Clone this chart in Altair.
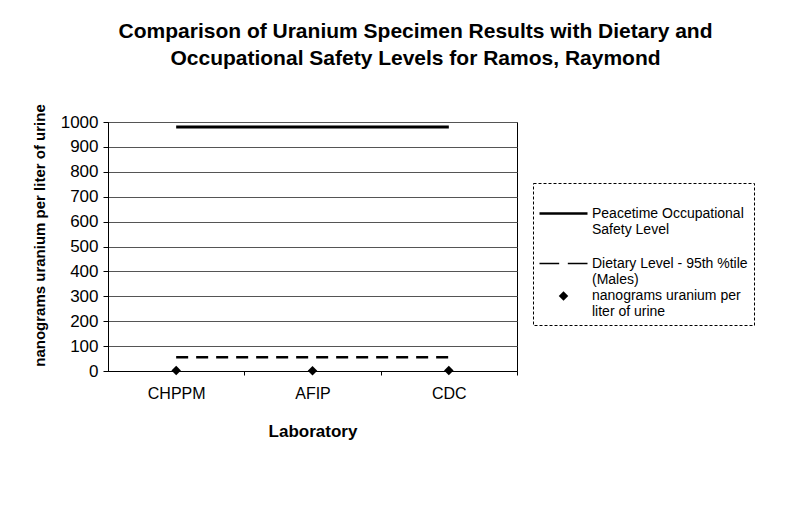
import altair as alt
import pandas as pd

labs = ["CHPPM", "AFIP", "CDC"]
peacetime = [980, 980, 980]
dietary = [55, 55, 55]
specimen = [2, 1, 2]

S1 = "Peacetime Occupational|Safety Level"
S2 = "Dietary Level - 95th %tile|(Males)"
S3 = "nanograms uranium per|liter of urine"
series = [S1, S2, S3]

lines_df = pd.DataFrame({
    "lab": labs * 2,
    "value": peacetime + dietary,
    "series": [S1] * 3 + [S2] * 3,
})
pts_df = pd.DataFrame({"lab": labs, "value": specimen, "series": [S3] * 3})

FONT = "Liberation Sans"

x = alt.X("lab:N", sort=labs,
          scale=alt.Scale(type="point", domain=labs, padding=0.5),
          axis=alt.Axis(title="Laboratory", labelAngle=0, labelFontSize=16,
                        labelColor="black", tickOffset=68, labelOffset=-68,
                        tickSize=4, labelPadding=10, titleFontSize=17,
                        titleFontWeight="bold", titlePadding=22, grid=False,
                        domainColor="black", tickColor="black"))
y = alt.Y("value:Q",
          scale=alt.Scale(domain=[0, 1000], nice=False),
          axis=alt.Axis(title="nanograms uranium per liter of urine",
                        values=list(range(0, 1001, 100)), format="d",
                        labelFontSize=17, labelColor="black", tickSize=5,
                        labelPadding=5, titleFontSize=15, titleFontWeight="bold",
                        titlePadding=13, titleY=113,
                        grid=True, gridColor="#555", gridWidth=1,
                        domainColor="black", tickColor="black"))

leg = alt.Legend(title=None, labelExpr="split(datum.label, '|')",
                 symbolStrokeColor="black", symbolFillColor="black",
                 symbolOpacity=1, symbolStrokeWidth=0.5)

SOLID_PATH = "M-1,-0.052H1V0.052H-1Z"
DASH_PATH = "M-1,-0.03H-0.18V0.03H-1Z M0.18,-0.03H1V0.03H0.18Z"

lines = alt.Chart(lines_df).mark_line(color="black").encode(
    x=x, y=y,
    strokeDash=alt.StrokeDash("series:N", legend=None,
                              scale=alt.Scale(domain=series, range=[[1, 0], [12, 8], [1, 0]])),
    strokeWidth=alt.StrokeWidth("series:N", legend=None,
                                scale=alt.Scale(type="ordinal", domain=series, range=[3, 2.5, 1])),
    detail="series:N",
)

points = alt.Chart(pts_df).mark_point(filled=True, color="black",
                                      opacity=1, strokeWidth=0.5).encode(
    x=x, y=y,
    shape=alt.Shape("series:N", legend=leg,
                    scale=alt.Scale(domain=series, range=[SOLID_PATH, DASH_PATH, "diamond"])),
    size=alt.Size("series:N", legend=leg,
                  scale=alt.Scale(type="ordinal", domain=series, range=[2304, 2304, 90])),
)

chart = alt.layer(lines, points).resolve_scale(
    strokeDash="independent", strokeWidth="independent"
).properties(
    width=409, height=249,
    title=alt.TitleParams(
        text=["Comparison of Uranium Specimen Results with Dietary and",
              "Occupational Safety Levels for Ramos, Raymond"],
        fontSize=21, font=FONT, fontWeight="bold", color="black",
        anchor="middle", dx=103, offset=35, lineHeight=27),
    autosize=alt.AutoSizeParams(type="none"),
    padding={"left": 100, "top": 114, "right": 268, "bottom": 125},
).configure(font=FONT).configure_view(
    stroke="black", strokeWidth=1
).configure_axis(
    labelFont=FONT, titleFont=FONT, titleColor="black"
).configure_legend(
    orient="none", legendX=425, legendY=61,
    labelFontSize=14, labelFont=FONT, labelColor="black",
    strokeColor="black", strokeDash=[3, 2], padding=6,
    rowPadding=2, labelLimit=400, labelOffset=4,
)

chart.save("out.html", embed_options={"renderer": "svg", "actions": False})
